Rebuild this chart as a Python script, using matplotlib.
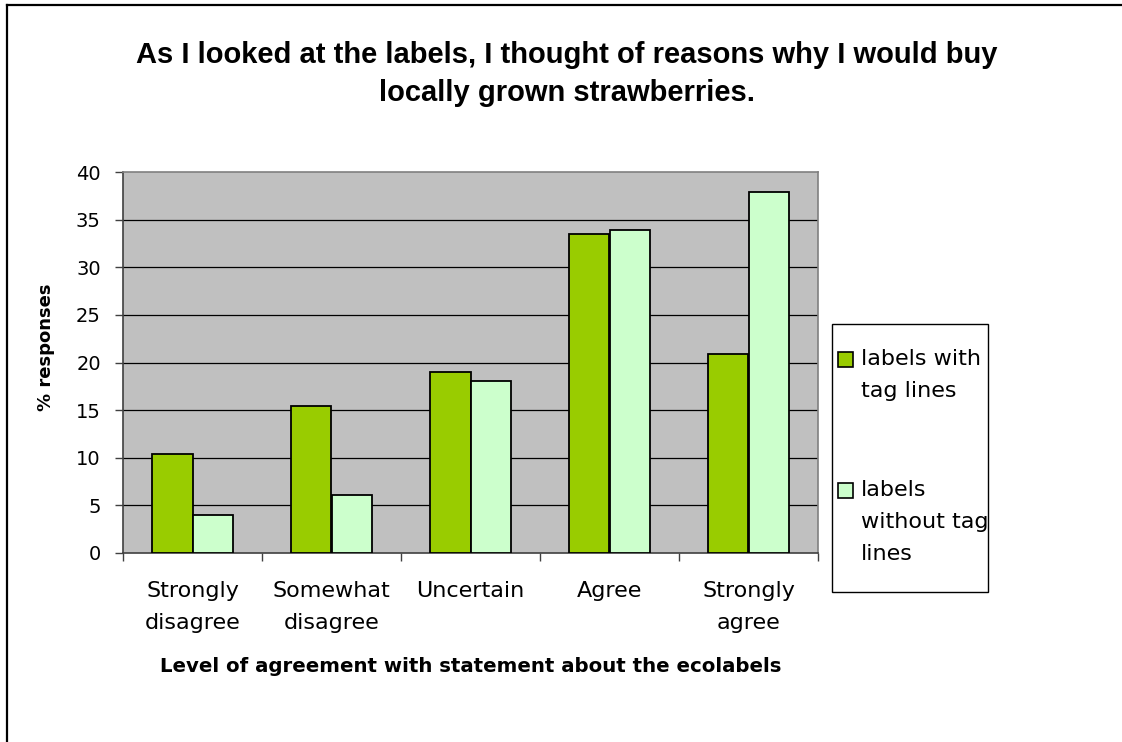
import matplotlib
matplotlib.use("Agg")
import matplotlib.pyplot as plt
from matplotlib.patches import Rectangle
from matplotlib.lines import Line2D
import numpy as np

categories = ["Strongly\ndisagree", "Somewhat\ndisagree", "Uncertain", "Agree", "Strongly\nagree"]
with_tag = [10.4, 15.4, 19.0, 33.5, 20.9]
without_tag = [3.95, 6.05, 18.05, 33.9, 37.9]
series_labels = ["labels with\ntag lines", "labels\nwithout tag\nlines"]
yticks = [0, 5, 10, 15, 20, 25, 30, 35, 40]
title = "As I looked at the labels, I thought of reasons why I would buy\nlocally grown strawberries."
xlabel = "Level of agreement with statement about the ecolabels"
ylabel = "% responses"

GREEN = "#99CC00"
LIGHT = "#CCFFCC"
PLOTBG = "#C0C0C0"

W, H = 1122, 742
fig = plt.figure(figsize=(W / 100, H / 100), dpi=100)

def fx(x):
    return x / W

def fy(y):
    return 1 - y / H

TFONT = "Liberation Sans"
BFONT = "DejaVu Sans"

# axes
left, right, top, bottom = 123, 818, 172, 553
ax = fig.add_axes([fx(left), fy(bottom), (right - left) / W, (bottom - top) / H])
ax.set_facecolor(PLOTBG)

x = np.arange(len(categories))
bw = 0.288
ax.bar(x - bw / 2, with_tag, bw, color=GREEN, edgecolor="black", linewidth=1.3, zorder=3)
ax.bar(x + bw / 2, without_tag, bw, color=LIGHT, edgecolor="black", linewidth=1.3, zorder=3)

ax.set_xlim(-0.5, len(categories) - 0.5)
ax.set_ylim(0, 40)
ax.set_yticks(yticks)
ax.set_yticklabels([str(v) for v in yticks], fontsize=14, family=BFONT)
for v in yticks[1:-1]:
    ax.axhline(v, color="black", linewidth=0.9, zorder=1)

ax.set_xticks(x)
ax.set_xticklabels(categories, fontsize=16, family=BFONT, linespacing=1.78)
ax.set_xticks(np.arange(-0.5, len(categories)), minor=True)
ax.tick_params(axis="x", which="major", length=0, pad=20)
ax.tick_params(axis="x", which="minor", length=6, width=1, color="#404040", direction="out")
ax.tick_params(axis="y", length=6, width=1, color="#404040", direction="out", pad=10)

for s in ["top", "right"]:
    ax.spines[s].set_color("#808080")
    ax.spines[s].set_linewidth(1.2)
for s in ["left", "bottom"]:
    ax.spines[s].set_color("#404040")
    ax.spines[s].set_linewidth(1.2)

ax.set_xlabel(xlabel, fontsize=14.2, fontweight="bold", family=BFONT, va="center")
ax.xaxis.set_label_coords(0.5, (bottom - 666) / (bottom - top))
ax.set_ylabel(ylabel, fontsize=13, fontweight="bold", family=BFONT, va="center")
ax.yaxis.set_label_coords((46 - left) / (right - left), (bottom - 347) / (bottom - top))

# title (va='baseline' anchors the last line's baseline)
fig.text(fx(567), fy(101), title, ha="center", va="baseline", fontsize=21,
         fontweight="bold", family=TFONT, linespacing=1.45)

# legend (manual box with swatches in series colours)
fig.add_artist(Rectangle((fx(832), fy(592)), (988 - 832) / W, (592 - 324) / H,
                         transform=fig.transFigure, facecolor="white",
                         edgecolor="black", linewidth=1.0))
entries = [(GREEN, series_labels[0], 352, 397), (LIGHT, series_labels[1], 483, 560)]
for col, lab, ytop, ylast in entries:
    fig.add_artist(Rectangle((fx(838), fy(ytop + 15)), 15 / W, 15 / H,
                             transform=fig.transFigure, facecolor=col,
                             edgecolor="black", linewidth=1.2))
    fig.text(fx(861), fy(ylast), lab, ha="left", va="baseline", fontsize=16,
             family=BFONT, linespacing=1.75)

# outer frame of the chart
fig.add_artist(Line2D([fx(7), fx(7)], [fy(5), 0], transform=fig.transFigure,
                      color="black", linewidth=1.6))
fig.add_artist(Line2D([fx(7), 1], [fy(5), fy(5)], transform=fig.transFigure,
                      color="black", linewidth=1.6))

fig.savefig("out.png", dpi=100)
